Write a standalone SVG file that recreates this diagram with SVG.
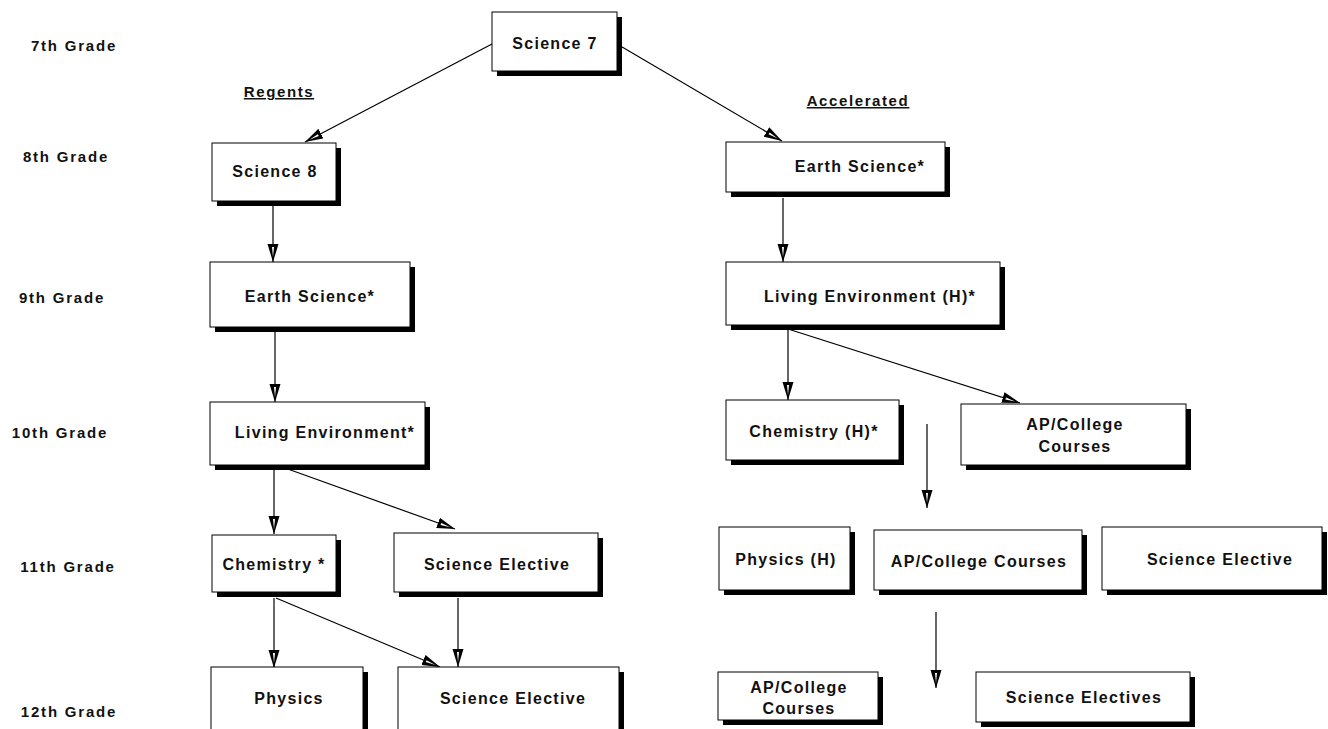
<svg xmlns="http://www.w3.org/2000/svg" width="1328" height="729" viewBox="0 0 1328 729">
<defs>
<style>
text{font-family:"Liberation Sans",Arial,sans-serif;font-weight:bold;font-size:16px;letter-spacing:1.3px;fill:#111;text-anchor:middle}
.grade{font-size:15px;letter-spacing:1.8px}
.hdr{text-decoration:underline;font-size:15px;letter-spacing:1.6px}
.sh{fill:#000}
.bx{fill:#fff;stroke:#000;stroke-width:1}
.cn{stroke:#000;stroke-width:1.2;fill:none;marker-end:url(#ah)}
</style>
<marker id="ah" markerUnits="userSpaceOnUse" markerWidth="20" markerHeight="12" refX="18" refY="6" orient="auto">
<path d="M0,0.5 L18,6 L0,11.5 z" fill="#000"/>
<path d="M3,5 L13,6 L3,7 z" fill="#fff"/>
</marker>
</defs>
<rect width="1328" height="729" fill="#fff"/>

<g id="grades">
<text class="grade" x="74" y="51">7th Grade</text>
<text class="grade" x="66" y="162">8th Grade</text>
<text class="grade" x="62" y="303">9th Grade</text>
<text class="grade" x="60" y="438">10th Grade</text>
<text class="grade" x="68" y="572">11th Grade</text>
<text class="grade" x="69" y="717">12th Grade</text>
</g>

<g id="headers">
<text class="hdr" x="279" y="97">Regents</text>
<text class="hdr" x="858" y="106">Accelerated</text>
</g>

<g id="connectors">
<line class="cn" x1="492" y1="44" x2="305" y2="142"/>
<line class="cn" x1="617" y1="44" x2="782" y2="141"/>
<line class="cn" x1="273" y1="206" x2="273" y2="262"/>
<line class="cn" x1="275" y1="331" x2="275" y2="402"/>
<line class="cn" x1="783" y1="198" x2="783" y2="262"/>
<line class="cn" x1="788" y1="329" x2="788" y2="400"/>
<line class="cn" x1="788" y1="329" x2="1020" y2="403"/>
<line class="cn" x1="927" y1="424" x2="927" y2="508"/>
<line class="cn" x1="274" y1="468" x2="274" y2="534"/>
<line class="cn" x1="285" y1="468" x2="455" y2="529"/>
<line class="cn" x1="274" y1="598" x2="274" y2="668"/>
<line class="cn" x1="276" y1="598" x2="440" y2="667"/>
<line class="cn" x1="458" y1="598" x2="458" y2="667"/>
<line class="cn" x1="936" y1="612" x2="936" y2="688"/>
</g>

<g id="science7"><rect class="sh" x="497" y="17" width="125" height="59"/><rect class="bx" x="492" y="12" width="125" height="59"/><text x="555" y="49">Science 7</text></g>
<g id="science8"><rect class="sh" x="217" y="148" width="124" height="58"/><rect class="bx" x="212" y="143" width="124" height="58"/><text x="275" y="177">Science 8</text></g>
<g id="earth-acc"><rect class="sh" x="731" y="147" width="219" height="50"/><rect class="bx" x="726" y="142" width="219" height="50"/><text x="860" y="172">Earth Science*</text></g>
<g id="earth-reg"><rect class="sh" x="215" y="267" width="200" height="65"/><rect class="bx" x="210" y="262" width="200" height="65"/><text x="310" y="302">Earth Science*</text></g>
<g id="living-h"><rect class="sh" x="731" y="267" width="274" height="63"/><rect class="bx" x="726" y="262" width="274" height="63"/><text x="870" y="302">Living Environment (H)*</text></g>
<g id="living-reg"><rect class="sh" x="215" y="407" width="215" height="63"/><rect class="bx" x="210" y="402" width="215" height="63"/><text x="325" y="438">Living Environment*</text></g>
<g id="chem-h"><rect class="sh" x="731" y="405" width="173" height="60"/><rect class="bx" x="726" y="400" width="173" height="60"/><text x="814" y="437">Chemistry (H)*</text></g>
<g id="ap10"><rect class="sh" x="966" y="409" width="225" height="61"/><rect class="bx" x="961" y="404" width="225" height="61"/><text x="1075" y="430">AP/College</text><text x="1075" y="452">Courses</text></g>
<g id="chem"><rect class="sh" x="217" y="540" width="124" height="57"/><rect class="bx" x="212" y="535" width="124" height="57"/><text x="274" y="570">Chemistry *</text></g>
<g id="elective11"><rect class="sh" x="399" y="538" width="204" height="59"/><rect class="bx" x="394" y="533" width="204" height="59"/><text x="497" y="570">Science Elective</text></g>
<g id="physics-h"><rect class="sh" x="724" y="532" width="131" height="63"/><rect class="bx" x="719" y="527" width="131" height="63"/><text x="786" y="565">Physics (H)</text></g>
<g id="ap11"><rect class="sh" x="879" y="535" width="208" height="60"/><rect class="bx" x="874" y="530" width="208" height="60"/><text x="979" y="567">AP/College Courses</text></g>
<g id="elective11-acc"><rect class="sh" x="1107" y="532" width="220" height="63"/><rect class="bx" x="1102" y="527" width="220" height="63"/><text x="1220" y="565">Science Elective</text></g>
<g id="physics"><rect class="sh" x="216" y="672" width="152" height="70"/><rect class="bx" x="211" y="667" width="152" height="70"/><text x="289" y="704">Physics</text></g>
<g id="elective12"><rect class="sh" x="403" y="672" width="221" height="70"/><rect class="bx" x="398" y="667" width="221" height="70"/><text x="513" y="704">Science Elective</text></g>
<g id="ap12"><rect class="sh" x="723" y="677" width="160" height="48"/><rect class="bx" x="718" y="672" width="160" height="48"/><text x="799" y="693">AP/College</text><text x="799" y="714">Courses</text></g>
<g id="electives12"><rect class="sh" x="981" y="677" width="214" height="50"/><rect class="bx" x="976" y="672" width="214" height="50"/><text x="1084" y="703">Science Electives</text></g>
</svg>
